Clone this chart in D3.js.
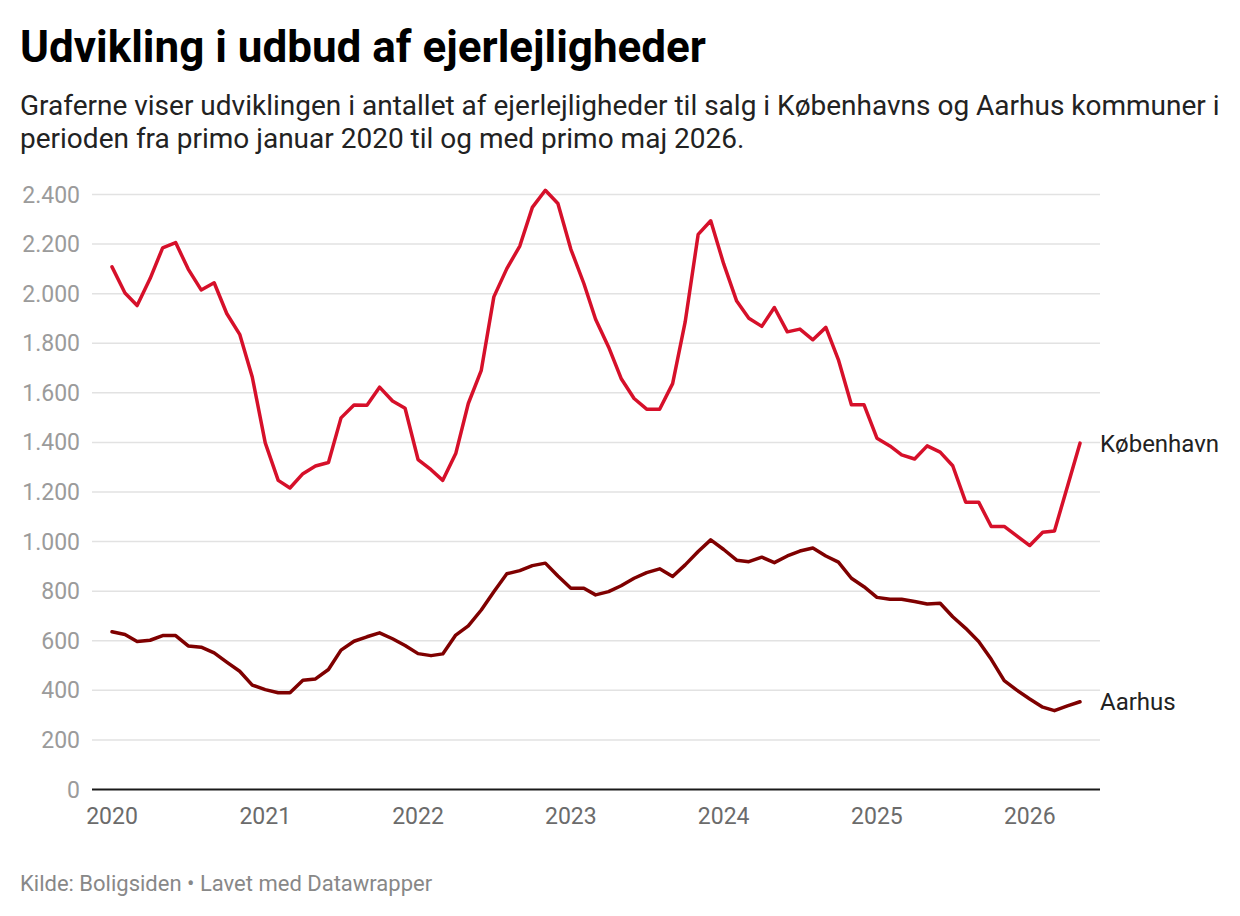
<!DOCTYPE html>
<html>
<head>
<meta charset="utf-8">
<script src="https://cdn.jsdelivr.net/npm/d3@7"></script>
<style>
  body { margin: 0; background: #fff; }
  svg { display: block; font-family: Roboto, "Noto Sans", sans-serif; }
</style>
</head>
<body>
<svg></svg>
<script>
// monthly values, primo jan 2020 .. primo maj 2026
const startMonth = new Date(2020, 0, 1);
const koebenhavn = [2108, 2003, 1952, 2061, 2185, 2206, 2099, 2015, 2044, 1920,
  1836, 1664, 1398, 1247, 1216, 1274, 1305, 1319, 1499, 1551,
  1550, 1623, 1567, 1538, 1331, 1290, 1247, 1355, 1557, 1691,
  1987, 2101, 2192, 2348, 2417, 2364, 2179, 2041, 1897, 1785,
  1658, 1577, 1534, 1534, 1637, 1886, 2239, 2294, 2120, 1970,
  1901, 1868, 1944, 1846, 1857, 1814, 1864, 1733, 1552, 1552,
  1417, 1386, 1350, 1333, 1386, 1361, 1306, 1159, 1159, 1061,
  1061, 1023, 984, 1038, 1043, 1222, 1397];
const aarhus = [636, 625, 597, 602, 621, 621, 579, 574, 551, 514,
  477, 421, 403, 390, 390, 441, 446, 484, 562, 598,
  616, 632, 608, 581, 548, 540, 547, 623, 660, 724,
  798, 870, 883, 903, 913, 861, 812, 812, 785, 798,
  822, 852, 875, 890, 859, 906, 960, 1007, 968, 925,
  919, 937, 915, 942, 962, 974, 942, 917, 852, 818,
  775, 767, 767, 758, 748, 751, 697, 650, 597, 525,
  439, 401, 365, 332, 318, 337, 354];
const seriesNames = ["København", "Aarhus"];
const seriesColors = ["#d6102a", "#7f0000"];
const yTicks = [0, 200, 400, 600, 800, 1000, 1200, 1400, 1600, 1800, 2000, 2200, 2400];
const xTickYears = [2020, 2021, 2022, 2023, 2024, 2025, 2026];

const title = "Udvikling i udbud af ejerlejligheder";
const subtitle = [
  "Graferne viser udviklingen i antallet af ejerlejligheder til salg i Københavns og Aarhus kommuner i",
  "perioden fra primo januar 2020 til og med primo maj 2026."
];
const footer = "Kilde: Boligsiden • Lavet med Datawrapper";

const width = 1240, height = 916;
const dates = koebenhavn.map((_, i) => d3.timeMonth.offset(startMonth, i));
const series = [koebenhavn, aarhus].map((vals, k) => ({
  name: seriesNames[k],
  color: seriesColors[k],
  values: vals.map((v, i) => ({ date: dates[i], value: v }))
}));

const svg = d3.select("svg").attr("width", width).attr("height", height);
svg.append("rect").attr("width", width).attr("height", height).attr("fill", "#fff");

const x = d3.scaleTime()
  .domain([dates[0], dates[dates.length - 1]])
  .range([112, 1080]);
const y = d3.scaleLinear().domain([0, 2400]).range([789.5, 194.5]);
const gridX0 = 92, gridX1 = 1100;

const locale = d3.formatLocale({ decimal: ",", thousands: ".", grouping: [3], currency: ["", " kr."] });
const fmt = locale.format(",d");

// header
svg.append("text").attr("x", 20).attr("y", 62)
  .attr("font-size", 44).attr("font-weight", 700).attr("fill", "#000")
  .text(title);
svg.selectAll(".sub").data(subtitle).enter().append("text")
  .attr("class", "sub")
  .attr("x", 20).attr("y", (d, i) => 115 + i * 33)
  .attr("font-size", 28).attr("fill", "#222")
  .text(d => d);

// grid + y labels
const grid = svg.append("g");
grid.selectAll("line").data(yTicks.filter(d => d > 0)).enter().append("line")
  .attr("x1", gridX0).attr("x2", gridX1)
  .attr("y1", d => y(d)).attr("y2", d => y(d))
  .attr("stroke", "#e2e2e2").attr("stroke-width", 1.5);
grid.selectAll("text").data(yTicks).enter().append("text")
  .attr("x", 80).attr("y", d => y(d))
  .attr("dy", "0.35em").attr("text-anchor", "end")
  .attr("font-size", 23).attr("fill", "#9b9b9b")
  .text(d => fmt(d));

// x axis
svg.append("line")
  .attr("x1", gridX0).attr("x2", gridX1)
  .attr("y1", y(0)).attr("y2", y(0))
  .attr("stroke", "#1a1a1a").attr("stroke-width", 2);
svg.append("g").selectAll("text").data(xTickYears).enter().append("text")
  .attr("x", d => x(new Date(d, 0, 1))).attr("y", 824)
  .attr("text-anchor", "middle")
  .attr("font-size", 23).attr("fill", "#6b6b6b")
  .text(d => d);

// lines
const line = d3.line().x(d => x(d.date)).y(d => y(d.value));
svg.append("g").selectAll("path").data(series).enter().append("path")
  .attr("d", d => line(d.values))
  .attr("fill", "none")
  .attr("stroke", d => d.color)
  .attr("stroke-width", 3.5)
  .attr("stroke-linejoin", "round")
  .attr("stroke-linecap", "round");

// end labels
svg.append("g").selectAll("text").data(series).enter().append("text")
  .attr("x", 1100)
  .attr("y", d => y(d.values[d.values.length - 1].value))
  .attr("dy", "0.35em")
  .attr("font-size", 24).attr("fill", "#222")
  .text(d => d.name);

// footer
svg.append("text").attr("x", 20).attr("y", 891)
  .attr("font-size", 22).attr("fill", "#888")
  .text(footer);
</script>
</body>
</html>
